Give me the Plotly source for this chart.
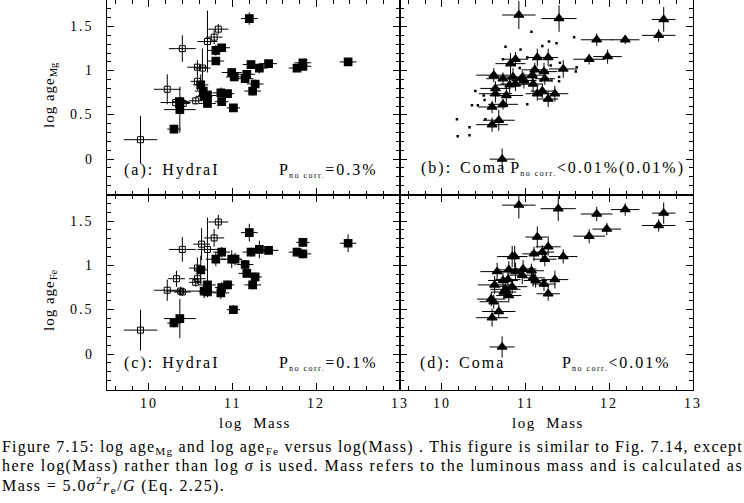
import plotly.graph_objects as go

W, H = 744, 503

# ---------------- data ----------------
# Panel (a): log age_Mg vs log Mass, Hydra I (open = sample 1, filled = sample 2)
a_open_x = [9.90, 10.22, 10.32, 10.38, 10.41, 10.40, 10.56, 10.58, 10.58, 10.64, 10.70, 10.78, 10.83]
a_open_y = [0.22, 0.79, 0.64, 0.65, 0.63, 1.25, 0.66, 0.88, 1.04, 1.03, 1.33, 1.38, 1.47]
a_open_ex = [0.20, 0.16, 0.18, 0.10, 0.08, 0.16, 0.08, 0.08, 0.12, 0.10, 0.12, 0.10, 0.12]
a_open_ey = [0.27, 0.17, 0.06, 0.05, 0.05, 0.15, 0.04, 0.10, 0.08, 0.22, 0.35, 0.08, 0.06]

a_fill_x = [10.30, 10.37, 10.37, 10.62, 10.65, 10.66, 10.70, 10.70, 10.80, 10.80, 10.87, 10.86, 10.87,
            10.94, 10.99, 11.02, 11.01, 11.15, 11.17, 11.20, 11.22, 11.24, 11.27, 11.32, 11.43, 11.77,
            11.84, 11.84, 12.38]
a_fill_y = [0.34, 0.56, 0.65, 0.84, 0.77, 0.71, 0.72, 0.63, 1.23, 1.11, 1.26, 0.75, 0.65,
            0.74, 0.98, 0.93, 0.58, 0.91, 0.96, 1.59, 1.07, 0.77, 0.85, 1.03, 1.08, 1.03,
            1.09, 1.05, 1.10]
a_fill_ex = [0.08, 0.19, 0.06, 0.09, 0.10, 0.10, 0.11, 0.10, 0.10, 0.10, 0.10, 0.10, 0.08,
             0.08, 0.12, 0.10, 0.08, 0.10, 0.10, 0.10, 0.10, 0.10, 0.10, 0.10, 0.10, 0.10,
             0.10, 0.10, 0.10]
a_fill_ey = [0.05, 0.26, 0.05, 0.12, 0.06, 0.08, 0.05, 0.04, 0.06, 0.04, 0.04, 0.06, 0.04,
             0.04, 0.05, 0.05, 0.03, 0.04, 0.05, 0.07, 0.04, 0.05, 0.05, 0.06, 0.03, 0.03,
             0.03, 0.03, 0.04]

# Panel (c): log age_Fe vs log Mass, Hydra I
c_open_x = [9.90, 10.22, 10.33, 10.38, 10.40, 10.40, 10.56, 10.58, 10.58, 10.63, 10.70, 10.78, 10.83]
c_open_y = [0.27, 0.72, 0.85, 0.71, 0.70, 1.18, 0.81, 0.85, 0.97, 1.24, 1.18, 1.31, 1.49]
c_open_ex = [0.20, 0.16, 0.10, 0.18, 0.10, 0.16, 0.08, 0.10, 0.10, 0.10, 0.12, 0.12, 0.12]
c_open_ey = [0.23, 0.12, 0.09, 0.05, 0.04, 0.14, 0.05, 0.06, 0.12, 0.18, 0.36, 0.10, 0.08]

c_fill_x = [10.30, 10.37, 10.62, 10.66, 10.70, 10.70, 10.80, 10.87, 10.86, 10.87, 10.94, 10.99, 11.03,
            11.01, 11.15, 11.17, 11.20, 11.22, 11.24, 11.27, 11.32, 11.43, 11.77, 11.84, 11.84, 12.38]
c_fill_y = [0.35, 0.40, 0.95, 0.71, 0.70, 0.78, 1.07, 1.15, 0.69, 0.75, 0.78, 1.07, 1.07,
            0.50, 1.01, 0.91, 1.37, 1.15, 0.78, 0.87, 1.18, 1.17, 1.15, 1.26, 1.13, 1.25]
c_fill_ex = [0.08, 0.19, 0.08, 0.10, 0.10, 0.10, 0.12, 0.10, 0.10, 0.08, 0.08, 0.12, 0.08,
             0.08, 0.10, 0.10, 0.10, 0.10, 0.10, 0.08, 0.08, 0.12, 0.10, 0.08, 0.10, 0.10]
c_fill_ey = [0.05, 0.22, 0.16, 0.08, 0.06, 0.06, 0.08, 0.06, 0.07, 0.06, 0.05, 0.10, 0.07,
             0.05, 0.05, 0.04, 0.10, 0.05, 0.05, 0.05, 0.10, 0.05, 0.05, 0.05, 0.05, 0.10]

# Panel (b): log age_Mg vs log Mass, Coma
b_x = [10.92, 11.40, 12.65, 12.59, 11.85, 12.19, 11.76, 11.98, 11.45, 10.72, 10.60, 10.68, 10.60,
       10.73, 10.64, 10.64, 10.62, 10.73, 10.77, 10.82, 10.88, 10.85, 10.88, 10.81, 10.96, 10.98,
       11.08, 11.09, 11.11, 11.14, 11.14, 11.20, 11.22, 11.23, 11.27, 11.27, 11.35]
b_y = [1.63, 1.59, 1.58, 1.40, 1.35, 1.35, 1.13, 1.16, 1.02, 0.00, 0.39, 0.44, 0.59,
       0.62, 0.74, 0.80, 0.95, 0.91, 0.72, 1.08, 1.13, 0.93, 0.85, 0.84, 0.92, 0.89,
       0.95, 0.85, 1.01, 1.15, 0.74, 0.77, 0.99, 0.91, 1.15, 0.68, 0.74]
b_ex = [0.20, 0.21, 0.14, 0.20, 0.19, 0.17, 0.19, 0.17, 0.17, 0.15, 0.19, 0.19, 0.17,
        0.18, 0.20, 0.18, 0.21, 0.20, 0.20, 0.18, 0.15, 0.20, 0.18, 0.15, 0.18, 0.15,
        0.15, 0.12, 0.16, 0.12, 0.14, 0.14, 0.16, 0.12, 0.12, 0.12, 0.16]
b_ey = [0.16, 0.15, 0.14, 0.07, 0.07, 0.05, 0.06, 0.08, 0.10, 0.12, 0.08, 0.12, 0.07,
        0.06, 0.10, 0.08, 0.08, 0.07, 0.10, 0.12, 0.08, 0.10, 0.08, 0.10, 0.08, 0.09,
        0.08, 0.10, 0.08, 0.10, 0.08, 0.08, 0.10, 0.07, 0.10, 0.09, 0.09]

# Panel (b) comparison sample (small dots)
b_dot_x = [11.07, 11.58, 11.37, 11.28, 10.76, 10.94, 11.20, 10.73, 11.02, 11.41, 11.61, 11.60, 11.40,
           11.40, 10.40, 10.51, 10.50, 10.36, 10.43, 10.52, 10.18, 10.33, 10.19, 10.33, 11.02, 11.18,
           11.31, 11.30, 10.93]
b_dot_y = [1.44, 1.38, 1.31, 1.33, 1.27, 1.24, 1.28, 1.13, 1.15, 1.09, 1.04, 0.99, 0.93,
           0.88, 0.77, 0.67, 0.72, 0.61, 0.61, 0.45, 0.45, 0.36, 0.26, 0.27, 0.62, 0.89,
           0.89, 1.06, 1.03]

# Panel (d): log age_Fe vs log Mass, Coma
d_x = [10.92, 11.39, 11.85, 12.19, 12.65, 12.59, 11.97, 11.76, 11.14, 11.27, 11.20, 11.10, 11.23,
       11.45, 10.84, 10.87, 10.66, 10.80, 10.88, 10.97, 10.96, 11.07, 11.09, 11.12, 11.22, 11.35,
       11.27, 10.73, 10.79, 10.63, 10.76, 10.84, 10.74, 10.80, 10.59, 10.62, 10.68, 10.60, 10.72]
d_y = [1.68, 1.64, 1.58, 1.63, 1.59, 1.45, 1.41, 1.33, 1.32, 1.21, 1.15, 1.13, 1.07,
       1.10, 1.10, 1.10, 0.93, 0.95, 0.93, 0.96, 0.89, 0.94, 0.86, 0.83, 0.79, 0.84,
       0.68, 0.83, 0.84, 0.78, 0.73, 0.76, 0.70, 0.66, 0.62, 0.59, 0.48, 0.41, 0.08]
d_ex = [0.20, 0.21, 0.19, 0.17, 0.14, 0.20, 0.17, 0.19, 0.14, 0.15, 0.14, 0.14, 0.14,
        0.17, 0.18, 0.15, 0.20, 0.15, 0.18, 0.16, 0.15, 0.15, 0.12, 0.14, 0.14, 0.16,
        0.14, 0.18, 0.15, 0.20, 0.18, 0.18, 0.15, 0.15, 0.17, 0.17, 0.20, 0.19, 0.15]
d_ey = [0.15, 0.14, 0.08, 0.07, 0.12, 0.07, 0.07, 0.08, 0.12, 0.10, 0.08, 0.08, 0.08,
        0.08, 0.12, 0.12, 0.10, 0.10, 0.10, 0.10, 0.10, 0.08, 0.10, 0.08, 0.08, 0.10,
        0.08, 0.10, 0.08, 0.10, 0.08, 0.08, 0.08, 0.08, 0.08, 0.08, 0.08, 0.10, 0.12]

x_range = [9.5, 13]
y_range = [-0.4, 1.8]
x_ticks = [10, 11, 12, 13]
x_ticklabels = ["10", "11", "12", "13"]
y_ticks = [0, 0.5, 1, 1.5]
y_ticklabels = ["0", "0.5", "1", "1.5"]

# ---------------- figure ----------------
FONT = "Liberation Serif"
fig = go.Figure()


def wide(t, ls=2):
    return '<span style="letter-spacing:%spx">%s</span>' % (ls, t)


def eb(arr):
    return dict(type="data", array=arr, visible=True, color="black", thickness=1, width=0)


def add_pts(x, y, ex, ey, symbol, size, xa, ya, lw=1.2):
    fig.add_trace(go.Scatter(
        x=x, y=y, mode="markers", xaxis=xa, yaxis=ya,
        error_x=eb(ex), error_y=eb(ey),
        marker=dict(symbol=symbol, size=size, color="black", line=dict(color="black", width=lw)),
        showlegend=False, hoverinfo="skip"))


add_pts(a_open_x, a_open_y, a_open_ex, a_open_ey, "square-open", 6, "x", "y", 1)
add_pts(a_fill_x, a_fill_y, a_fill_ex, a_fill_ey, "square", 7.5, "x", "y")
fig.add_trace(go.Scatter(x=b_dot_x, y=b_dot_y, mode="markers", xaxis="x2", yaxis="y2",
                         marker=dict(symbol="square", size=2.5, color="black"),
                         showlegend=False, hoverinfo="skip"))
add_pts(b_x, b_y, b_ex, b_ey, "triangle-up", 8.5, "x2", "y2")
add_pts(c_open_x, c_open_y, c_open_ex, c_open_ey, "square-open", 6, "x3", "y3", 1)
add_pts(c_fill_x, c_fill_y, c_fill_ex, c_fill_ey, "square", 7.5, "x3", "y3")
add_pts(d_x, d_y, d_ex, d_ey, "triangle-up", 8.5, "x4", "y4")

xL = [107 / W, 400 / W]
xR = [400 / W, 693 / W]
yT = [1 - 194.5 / H, 1.0]
yB = [1 - 389.5 / H, 1 - 194.5 / H]


def xax(domain, anchor):
    return dict(domain=domain, anchor=anchor, range=x_range, tickvals=x_ticks,
                showticklabels=False,
                ticks="inside", ticklen=7, tickcolor="black", tickwidth=1,
                minor=dict(ticks="inside", ticklen=4, dtick=0.2, tick0=10, tickcolor="black", tickwidth=1),
                showline=True, linecolor="black", linewidth=1, mirror="allticks",
                showgrid=False, zeroline=False)


def yax(domain, anchor):
    return dict(domain=domain, anchor=anchor, range=y_range, tickvals=y_ticks,
                showticklabels=False,
                ticks="inside", ticklen=7, tickcolor="black", tickwidth=1,
                minor=dict(ticks="inside", ticklen=4, dtick=0.1, tick0=0, tickcolor="black", tickwidth=1),
                showline=True, linecolor="black", linewidth=1, mirror="allticks",
                showgrid=False, zeroline=False)


fig.update_layout(
    width=W, height=H, margin=dict(l=0, r=0, t=0, b=0),
    paper_bgcolor="white", plot_bgcolor="white",
    xaxis=xax(xL, "y"), yaxis=yax(yT, "x"),
    xaxis2=xax(xR, "y2"), yaxis2=yax(yT, "x2"),
    xaxis3=xax(xL, "y3"), yaxis3=yax(yB, "x3"),
    xaxis4=xax(xR, "y4"), yaxis4=yax(yB, "x4"),
)


def ann(text, px, py, size=16, xanchor="left", family=FONT, angle=0):
    fig.add_annotation(text=text, x=px / W, y=1 - py / H, xref="paper", yref="paper",
                       xanchor=xanchor, yanchor="middle", showarrow=False, textangle=angle,
                       font=dict(family=family, size=size, color="black"))


# tick labels (placed on the axes' own scales)
for xr in ("x3", "x4"):
    for v, t in zip(x_ticks, x_ticklabels):
        fig.add_annotation(text=wide(t, 2), x=v, xref=xr, y=1 - 403 / H, yref="paper",
                           xanchor="center", yanchor="middle", showarrow=False,
                           font=dict(family=FONT, size=14, color="black"))
for yr in ("y", "y3"):
    for v, t in zip(y_ticks, y_ticklabels):
        fig.add_annotation(text=wide(t, 2), y=v, yref=yr, x=96 / W, xref="paper",
                           xanchor="right", yanchor="middle", showarrow=False,
                           font=dict(family=FONT, size=14, color="black"))

sub = '<sub><span style="font-size:8px;letter-spacing:1.5px">no corr.</span></sub>'
P = wide("P", 1)
ann(wide("(a):") + "&nbsp;&nbsp;" + wide("HydraI"), 122, 170)
ann(P + sub + wide("=0.3%"), 277, 170)
ann(wide("(b):") + "&nbsp;&nbsp;" + wide("Coma") + "&nbsp;" + P + sub + wide("&lt;0.01%(0.01%)"), 419, 168)
ann(wide("(c):") + "&nbsp;&nbsp;" + wide("HydraI"), 122, 363)
ann(P + sub + wide("=0.1%"), 277, 363)
ann(wide("(d):") + "&nbsp;&nbsp;" + wide("Coma"), 418, 363)
ann(P + sub + wide("&lt;0.01%"), 560, 363)

ann(wide("log&nbsp; Mass", 1.5), 255, 423, size=15, xanchor="center")
ann(wide("log&nbsp; Mass", 1.5), 548, 423, size=15, xanchor="center")
ann(wide("log age", 1) + "<sub>Mg</sub>", 50, 95, size=15, xanchor="center", angle=-90)
ann(wide("log age", 1) + "<sub>Fe</sub>", 50, 300, size=15, xanchor="center", angle=-90)

CAP = "Liberation Serif"
ann(wide("Figure 7.15: log age<sub>Mg</sub> and log age<sub>Fe</sub> versus log(Mass) . This figure is similar to Fig. 7.14, except", 1.22),
    0, 447, size=16, family=CAP)
ann(wide("here log(Mass) rather than log <i>σ</i> is used. Mass refers to the luminous mass and is calculated as", 1.45),
    0, 466, size=16, family=CAP)
ann(wide("Mass = 5.0<i>σ</i><sup>2</sup><i>r</i><sub>e</sub>/<i>G</i> (Eq. 2.25).", 1.4),
    0, 485, size=16, family=CAP)

fig.write_html("out.html", config={"displayModeBar": False},
               post_script="document.body.style.margin='0';document.body.style.padding='0';")
